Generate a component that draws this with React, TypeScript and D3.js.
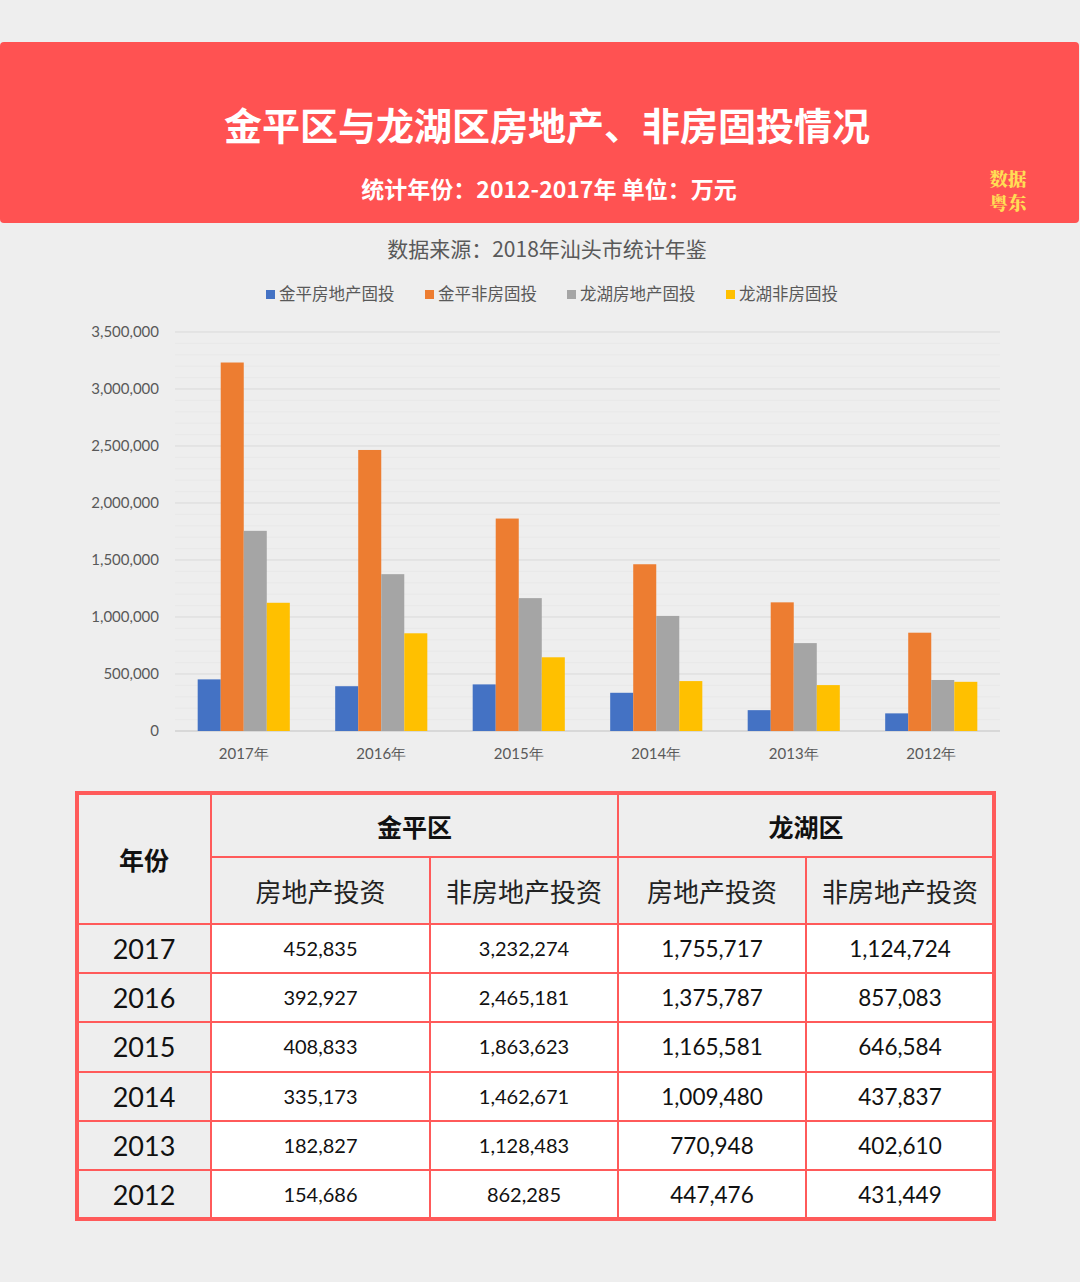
import React from "react";
import * as d3 from "d3";

const years = ["2017", "2016", "2015", "2014", "2013", "2012"];
const xLabels = ["2017年", "2016年", "2015年", "2014年", "2013年", "2012年"];
const seriesNames = ["金平房地产固投", "金平非房固投", "龙湖房地产固投", "龙湖非房固投"];
const jinpingRE = [452835, 392927, 408833, 335173, 182827, 154686];
const jinpingNonRE = [3232274, 2465181, 1863623, 1462671, 1128483, 862285];
const longhuRE = [1755717, 1375787, 1165581, 1009480, 770948, 447476];
const longhuNonRE = [1124724, 857083, 646584, 437837, 402610, 431449];
const yTicks = [0, 500000, 1000000, 1500000, 2000000, 2500000, 3000000, 3500000];
const colors = ["#4472c4", "#ed7d31", "#a5a5a5", "#ffc000"];

const title = "金平区与龙湖区房地产、非房固投情况";
const subtitle = "统计年份：2012-2017年 单位：万元";
const source = "数据来源：2018年汕头市统计年鉴";
const logoLines = ["数据", "粤东"];

const series = [jinpingRE, jinpingNonRE, longhuRE, longhuNonRE];

const W = 1080;
const H = 1282;
const BG = "#eeeeee";
const RED = "#ff5252";
const CJK = "'Noto Sans CJK SC', 'Noto Sans', sans-serif";
const NUM = "Lato, 'Noto Sans', sans-serif";

export default function App() {
  const plotL = 175, plotR = 1000, plotT = 332, plotB = 731;
  const x0 = d3.scaleBand<string>().domain(years).range([plotL, plotR]).paddingInner(0.33).paddingOuter(0.165);
  const x1 = d3.scaleBand<number>().domain([0, 1, 2, 3]).range([0, x0.bandwidth()]);
  const y = d3.scaleLinear().domain([0, 3500000]).range([plotB, plotT]);
  const fmt = d3.format(",");
  const minorTicks = d3.range(100000, 3500000, 100000).filter((v) => v % 500000 !== 0);

  const legendX = [266, 425, 567, 726];

  const colX = [77, 211, 430, 618, 806, 994];
  const rowY = [793, 857, 924, 973, 1022, 1072, 1121, 1170, 1219];
  const tableRed = "#ff5a5a";

  return (
    <div style={{ position: "absolute", left: 0, top: 0, width: W, height: H }}>
      <svg width={W} height={H} style={{ display: "block" }}>
        <rect x={0} y={0} width={W} height={H} fill={BG} />
        <rect x={0} y={42} width={1079} height={181} rx={4} fill={RED} />
        <text x={547} y={140} textAnchor="middle" fill="#fff" fontFamily={CJK} fontWeight={700} fontSize={38}>
          {title}
        </text>
        <text x={549} y={198} textAnchor="middle" fill="#fff" fontFamily={CJK} fontWeight={700} fontSize={23}>
          {subtitle}
        </text>
        {logoLines.map((l, i) => (
          <text key={l} x={1008} y={186 + i * 24} textAnchor="middle" fill="#ffdd55" fontFamily="'Noto Serif CJK SC', 'Noto Sans CJK SC', serif" fontWeight={900} fontSize={18.5}>
            {l}
          </text>
        ))}

        <text x={547} y={257} textAnchor="middle" fill="#595959" fontFamily={CJK} fontSize={21}>
          {source}
        </text>

        {seriesNames.map((n, i) => (
          <g key={n}>
            <rect x={legendX[i]} y={290} width={9} height={9} fill={colors[i]} />
            <text x={legendX[i] + 13} y={300} fill="#595959" fontFamily={CJK} fontSize={16.5}>
              {n}
            </text>
          </g>
        ))}

        {minorTicks.map((t) => (
          <line key={"m" + t} x1={plotL} x2={plotR} y1={y(t)} y2={y(t)} stroke="#e8e8e8" strokeWidth={1} />
        ))}
        {yTicks.map((t) => (
          <g key={t}>
            <line x1={plotL} x2={plotR} y1={y(t)} y2={y(t)} stroke={t === 0 ? "#d0d0d0" : "#d9d9d9"} strokeWidth={t === 0 ? 1.5 : 1} />
            <text x={159} y={y(t) + 5} textAnchor="end" fill="#595959" fontFamily={NUM} fontSize={15}>
              {fmt(t)}
            </text>
          </g>
        ))}

        {years.map((yr, gi) => (
          <g key={yr} transform={`translate(${x0(yr)},0)`}>
            {series.map((s, si) => (
              <rect
                key={si}
                x={x1(si)}
                y={y(s[gi])}
                width={x1.bandwidth()}
                height={plotB - y(s[gi])}
                fill={colors[si]}
              />
            ))}
          </g>
        ))}

        {years.map((yr, gi) => (
          <text key={yr} x={(x0(yr) as number) + x0.bandwidth() / 2} y={759} textAnchor="middle" fill="#595959" fontFamily={NUM} fontSize={15}>
            {xLabels[gi]}
          </text>
        ))}

        <rect x={colX[1]} y={rowY[2]} width={colX[5] - colX[1]} height={rowY[8] - rowY[2]} fill="#ffffff" />
        <text x={(colX[0] + colX[1]) / 2} y={870} textAnchor="middle" fill="#111" fontFamily={CJK} fontWeight={700} fontSize={25}>
          年份
        </text>
        <text x={(colX[1] + colX[3]) / 2} y={837} textAnchor="middle" fill="#111" fontFamily={CJK} fontWeight={700} fontSize={25}>
          金平区
        </text>
        <text x={(colX[3] + colX[5]) / 2} y={837} textAnchor="middle" fill="#111" fontFamily={CJK} fontWeight={700} fontSize={25}>
          龙湖区
        </text>
        {["房地产投资", "非房地产投资", "房地产投资", "非房地产投资"].map((t, i) => (
          <text key={i} x={(colX[i + 1] + colX[i + 2]) / 2} y={902} textAnchor="middle" fill="#222" fontFamily={CJK} fontSize={26}>
            {t}
          </text>
        ))}
        {years.map((yr, ri) => {
          const cy = (rowY[ri + 2] + rowY[ri + 3]) / 2;
          return (
            <g key={yr}>
              <text x={(colX[0] + colX[1]) / 2} y={cy + 10} textAnchor="middle" fill="#111" fontFamily={NUM} fontSize={27}>
                {yr}
              </text>
              {series.map((s, si) => (
                <text
                  key={si}
                  x={(colX[si + 1] + colX[si + 2]) / 2}
                  y={cy + (si < 2 ? 7 : 8)}
                  textAnchor="middle"
                  fill="#111"
                  fontFamily={NUM}
                  fontSize={si < 2 ? 20 : 22.5}
                >
                  {fmt(s[ri])}
                </text>
              ))}
            </g>
          );
        })}
        <line x1={colX[1]} x2={colX[5]} y1={rowY[1]} y2={rowY[1]} stroke={tableRed} strokeWidth={2} />
        {rowY.slice(2, 8).map((ry) => (
          <line key={ry} x1={colX[0]} x2={colX[5]} y1={ry} y2={ry} stroke={tableRed} strokeWidth={2} />
        ))}
        <line x1={colX[1]} x2={colX[1]} y1={rowY[0]} y2={rowY[8]} stroke={tableRed} strokeWidth={2} />
        <line x1={colX[3]} x2={colX[3]} y1={rowY[0]} y2={rowY[8]} stroke={tableRed} strokeWidth={2} />
        <line x1={colX[2]} x2={colX[2]} y1={rowY[1]} y2={rowY[8]} stroke={tableRed} strokeWidth={2} />
        <line x1={colX[4]} x2={colX[4]} y1={rowY[1]} y2={rowY[8]} stroke={tableRed} strokeWidth={2} />
        <rect x={colX[0]} y={rowY[0]} width={colX[5] - colX[0]} height={rowY[8] - rowY[0]} fill="none" stroke={tableRed} strokeWidth={4} />
      </svg>
    </div>
  );
}
